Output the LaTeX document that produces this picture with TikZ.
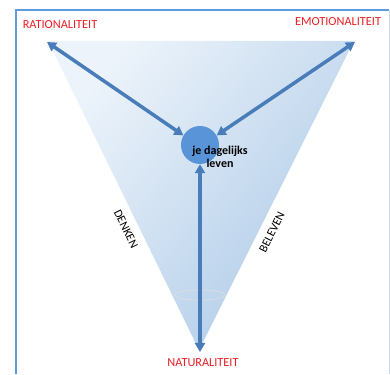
\documentclass[tikz,border=0pt]{standalone}
\usepackage{fontspec}
\setmainfont{Carlito}
\usetikzlibrary{arrows.meta}
\definecolor{framec}{RGB}{95,155,220}
\definecolor{framer}{RGB}{200,215,235}
\definecolor{arrowc}{RGB}{72,125,185}
\definecolor{circc}{RGB}{88,148,215}
\definecolor{triL}{RGB}{236,243,250}
\definecolor{triR}{RGB}{175,203,232}
\definecolor{labred}{RGB}{235,30,35}
\tikzset{
  corner/.style={text=labred, font=\fontsize{12.3}{14}\selectfont, inner sep=0pt},
  side/.style={font=\fontsize{12}{13}\selectfont, inner sep=0pt},
  link/.style={arrowc, line width=3.5pt, {Triangle[length=9pt,width=10pt]}-{Triangle[length=9pt,width=10pt]}},
}
\begin{document}
\begin{tikzpicture}[x=1pt,y=1pt]
\useasboundingbox (0,0) rectangle (390,374);
% frame
\draw[framec, line width=2pt] (15.5,0) -- (15.5,363.5) -- (389,363.5);
\draw[framer, line width=1pt] (389,363.5) -- (389,0);
% triangle
\coordinate (A) at (48,333);
\coordinate (B) at (354,333);
\coordinate (C) at (199,24);
\shade[left color=triL, right color=triR, shading angle=50] (A) -- (B) -- (C) -- cycle;
\draw[gray!25, line width=0.6pt] (200,79) ellipse (25 and 5);
% centre
\node[circle, fill=circc, minimum size=38pt, inner sep=0pt] (m) at (200,229) {};
\node[font=\bfseries\fontsize{12}{13}\selectfont, align=center, inner sep=0pt] (t) at (220,217) {je dagelijks\\leven};
% corner anchors
\coordinate (a) at (47,332);
\coordinate (b) at (355,332);
\coordinate (c) at (200,22);
\draw[link] (a) -- (m.150);
\draw[link] (b) -- (m.30);
\draw[link] (c) -- (m.south);
% labels
\node[corner] (r) at (60,349) {RATIONALITEIT};
\node[corner] (e) at (338,352) {EMOTIONALITEIT};
\node[corner] (n) at (203,11) {NATURALITEIT};
\node[side, rotate=-64] (d) at (126,145) {DENKEN};
\node[side, rotate=63.5] (l) at (272,142) {BELEVEN};
\end{tikzpicture}
\end{document}
